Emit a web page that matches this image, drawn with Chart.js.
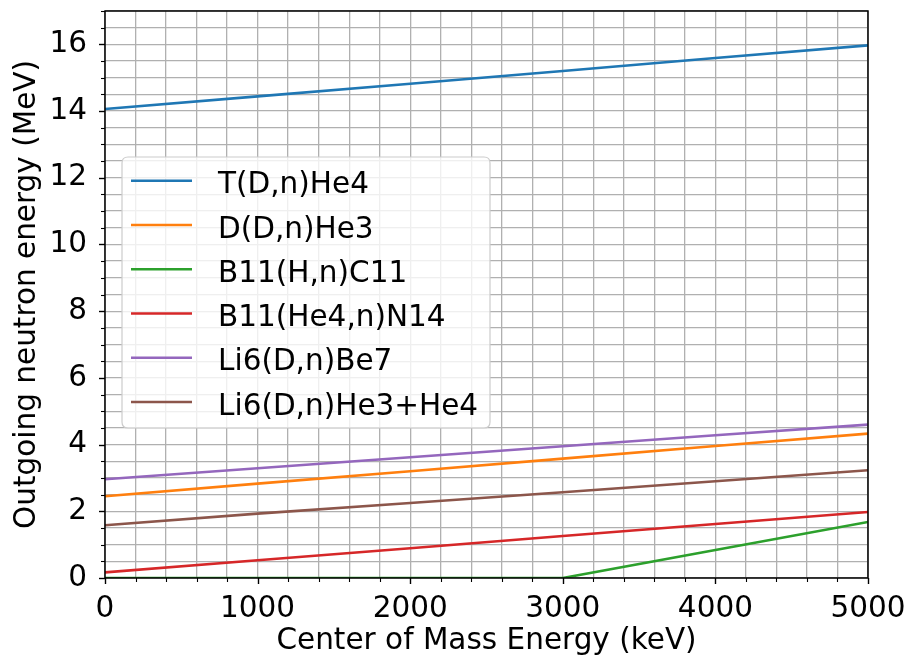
<!DOCTYPE html>
<html>
<head>
<meta charset="utf-8">
<script src="https://cdn.jsdelivr.net/npm/chart.js@4/dist/chart.umd.min.js"></script>
<style>
html,body{margin:0;padding:0;background:#fff;}
#wrap{width:912px;height:664px;}
</style>
</head>
<body>
<div id="wrap"><canvas id="c" width="912" height="664"></canvas></div>
<script>
// ---- data ----
const energies = [0, 1000, 2000, 3000, 4000, 5000];
const seriesNames = ['T(D,n)He4', 'D(D,n)He3', 'B11(H,n)C11', 'B11(He4,n)N14', 'Li6(D,n)Be7', 'Li6(D,n)He3+He4'];
const tdnHe4   = [14.06, 14.44, 14.82, 15.20, 15.59, 15.97];
const ddnHe3   = [2.45, 2.83, 3.20, 3.58, 3.96, 4.33];
const b11hnC11 = [0, 0, 0, 0, 0.84, 1.68];
const b11aN14  = [0.17, 0.53, 0.89, 1.26, 1.62, 1.98];
const li6dBe7  = [2.96, 3.29, 3.62, 3.95, 4.28, 4.60];
const li6dHeHe = [1.58, 1.93, 2.25, 2.57, 2.90, 3.23];
const xMajorTicks = [0, 1000, 2000, 3000, 4000, 5000];
const yMajorTicks = [0, 2, 4, 6, 8, 10, 12, 14, 16];

const seriesValues = [tdnHe4, ddnHe3, b11hnC11, b11aN14, li6dBe7, li6dHeHe];
const colors = ['#1f77b4', '#ff7f0e', '#2ca02c', '#d62728', '#9467bd', '#8c564b'];
const FONT = "'DejaVu Sans', sans-serif";
const FS = 29.5;

const datasets = seriesNames.map((name, i) => ({
  label: name,
  data: energies.map((e, j) => ({x: e, y: seriesValues[i][j]})),
  borderColor: colors[i],
  backgroundColor: colors[i],
  borderWidth: 2.6,
  pointRadius: 0,
  tension: 0,
  fill: false
}));

const mplPlugin = {
  id: 'mpl',
  afterDatasetsDraw(chart) {
    const {ctx, chartArea: a, scales} = chart;
    ctx.save();
    ctx.strokeStyle = '#000';
    for (const t of scales.x.ticks) {
      const px = Math.round(scales.x.getPixelForValue(t.value)) + 0.5;
      const major = xMajorTicks.includes(t.value);
      ctx.lineWidth = major ? 1.4 : 1.1;
      const len = major ? 6 : 4;
      ctx.beginPath(); ctx.moveTo(px, a.bottom); ctx.lineTo(px, a.bottom + len); ctx.stroke();
    }
    for (const t of scales.y.ticks) {
      const py = Math.round(scales.y.getPixelForValue(t.value)) + 0.5;
      const major = yMajorTicks.includes(t.value);
      ctx.lineWidth = major ? 1.4 : 1.1;
      const len = major ? 6 : 4;
      ctx.beginPath(); ctx.moveTo(a.left, py); ctx.lineTo(a.left - len, py); ctx.stroke();
    }
    ctx.lineWidth = 1.5;
    ctx.strokeRect(a.left, a.top, a.right - a.left, a.bottom - a.top);

    // legend
    const bx = 122, by = 157, bw = 368, bh = 271, r = 6;
    ctx.beginPath();
    ctx.moveTo(bx + r, by);
    ctx.lineTo(bx + bw - r, by); ctx.quadraticCurveTo(bx + bw, by, bx + bw, by + r);
    ctx.lineTo(bx + bw, by + bh - r); ctx.quadraticCurveTo(bx + bw, by + bh, bx + bw - r, by + bh);
    ctx.lineTo(bx + r, by + bh); ctx.quadraticCurveTo(bx, by + bh, bx, by + bh - r);
    ctx.lineTo(bx, by + r); ctx.quadraticCurveTo(bx, by, bx + r, by);
    ctx.closePath();
    ctx.fillStyle = 'rgba(255,255,255,0.8)';
    ctx.fill();
    ctx.strokeStyle = '#cccccc';
    ctx.lineWidth = 1.2;
    ctx.stroke();

    ctx.font = FS + 'px ' + FONT;
    ctx.textBaseline = 'alphabetic';
    ctx.textAlign = 'left';
    chart.data.datasets.forEach((ds, i) => {
      const y = 180.7 + i * 44.27;
      ctx.strokeStyle = ds.borderColor;
      ctx.lineWidth = 2.6;
      ctx.beginPath(); ctx.moveTo(131, y); ctx.lineTo(192, y); ctx.stroke();
      ctx.fillStyle = '#000';
      ctx.fillText(ds.label, 218, y + 12.6);
    });
    ctx.restore();
  }
};

function noPad(s) { s.paddingLeft = 0; s.paddingRight = 0; s.paddingTop = 0; s.paddingBottom = 0; }

new Chart(document.getElementById('c'), {
  type: 'line',
  data: {datasets},
  options: {
    responsive: false,
    animation: false,
    events: [],
    layout: {padding: {top: 11, right: 44, left: 0, bottom: 0}},
    plugins: {legend: {display: false}, tooltip: {enabled: false}},
    scales: {
      x: {
        type: 'linear',
        min: 0, max: 5000,
        afterFit(s) { s.height = 86; noPad(s); },
        border: {display: false},
        grid: {color: '#b0b0b0', lineWidth: 1.3, drawTicks: false},
        ticks: {
          stepSize: 200, autoSkip: false, maxRotation: 0, padding: 14,
          color: '#000', font: {family: FONT, size: FS},
          callback: v => xMajorTicks.includes(v) ? String(v) : ''
        },
        title: {display: true, text: 'Center of Mass Energy (keV)', color: '#000',
               font: {family: FONT, size: FS}, padding: {top: 0, bottom: 5}}
      },
      y: {
        type: 'linear',
        min: 0, max: 17,
        afterFit(s) { s.width = 105; noPad(s); },
        border: {display: false},
        grid: {color: '#b0b0b0', lineWidth: 1.3, drawTicks: false},
        ticks: {
          stepSize: 0.5, autoSkip: false, padding: 18,
          color: '#000', font: {family: FONT, size: FS},
          callback: v => yMajorTicks.includes(v) ? String(v) : ''
        },
        title: {display: true, text: 'Outgoing neutron energy (MeV)', color: '#000',
               font: {family: FONT, size: FS}, padding: {top: 10, bottom: 0}}
      }
    }
  },
  plugins: [mplPlugin]
});
</script>
</body>
</html>
